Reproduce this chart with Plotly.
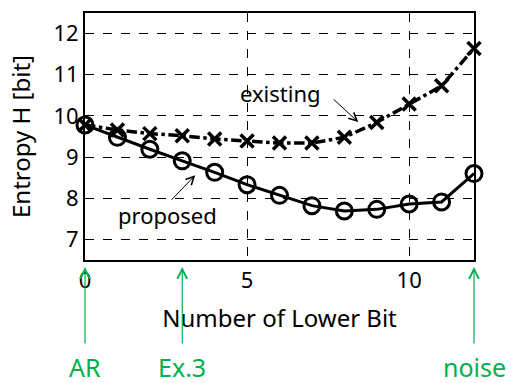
import plotly.graph_objects as go

bits = list(range(13))
proposed = [9.78, 9.48, 9.19, 8.91, 8.63, 8.33, 8.07, 7.82, 7.69, 7.73, 7.86, 7.91, 8.6]
existing = [9.78, 9.66, 9.57, 9.52, 9.44, 9.39, 9.34, 9.34, 9.48, 9.84, 10.29, 10.73, 11.64]
y_ticks = [7, 8, 9, 10, 11, 12]
x_ticks = [0, 5, 10]
markers_below = [(0, "AR"), (3, "Ex.3"), (12, "noise")]

FONT = "Noto Sans"
GREEN = "#00B050"

fig = go.Figure()
fig.add_trace(go.Scatter(
    x=bits, y=existing, mode="lines+markers",
    line=dict(color="black", width=3.5, dash="dashdot"),
    marker=dict(symbol="x-thin-open", size=13, line=dict(color="black", width=3.5)),
    showlegend=False, cliponaxis=False))
fig.add_trace(go.Scatter(
    x=bits, y=proposed, mode="lines+markers",
    line=dict(color="black", width=3),
    marker=dict(symbol="circle-open", size=16, color="black", line=dict(color="black", width=3)),
    showlegend=False, cliponaxis=False))

annotations = [
    dict(x=8.43, y=9.85, ax=-26, ay=-24, xref="x", yref="y", text="", showarrow=True,
         arrowhead=5, arrowsize=1.6, arrowwidth=1, arrowcolor="black"),
    dict(x=6.02, y=10.56, xref="x", yref="y", text="existing", showarrow=False,
         font=dict(family=FONT, size=22, color="black")),
    dict(x=3.4, y=8.56, ax=-25, ay=26, xref="x", yref="y", text="", showarrow=True,
         arrowhead=5, arrowsize=1.6, arrowwidth=1, arrowcolor="black"),
    dict(x=2.56, y=7.59, xref="x", yref="y", text="proposed", showarrow=False,
         font=dict(family=FONT, size=22, color="black")),
]
for xv, label in markers_below:
    annotations.append(dict(x=xv, y=-0.028, xref="x", yref="paper", ax=0, ay=78, text="",
                            showarrow=True, arrowhead=5, arrowsize=1.6, arrowwidth=1.2,
                            arrowcolor=GREEN))
    annotations.append(dict(x=xv, y=-0.358, xref="x", yref="paper", yanchor="top",
                            text=label, showarrow=False,
                            font=dict(family=FONT, size=25, color=GREEN)))

fig.update_layout(
    width=513, height=383,
    margin=dict(l=85, r=39, t=11, b=123),
    paper_bgcolor="white", plot_bgcolor="white",
    font=dict(family=FONT, size=22, color="black"),
    annotations=annotations,
    xaxis=dict(range=[0, 12], tickvals=x_ticks, showgrid=True, gridcolor="black",
               griddash="dash", gridwidth=1, zeroline=False, showline=True,
               linecolor="black", linewidth=2, mirror=True, ticks="",
               title=dict(text="Number of Lower Bit", font=dict(size=24), standoff=17),
               tickfont=dict(size=22)),
    yaxis=dict(range=[6.5, 12.5], tickvals=y_ticks, showgrid=True, gridcolor="black",
               griddash="dash", gridwidth=1, zeroline=False, showline=True,
               linecolor="black", linewidth=2, mirror=True, ticks="",
               title=dict(text="Entropy H [bit]", font=dict(size=24), standoff=16),
               tickfont=dict(size=22)),
)

fig.write_html("out.html")
